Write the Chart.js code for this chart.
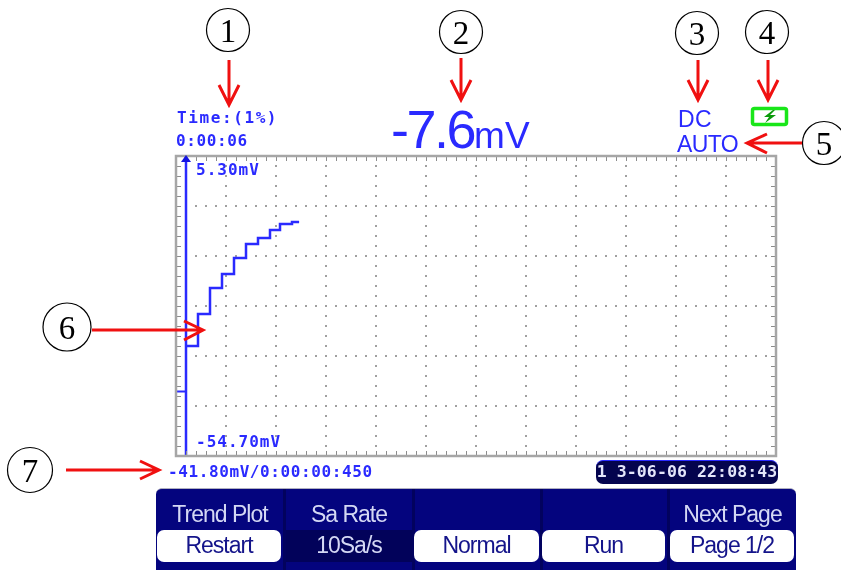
<!DOCTYPE html>
<html lang="en">
<head>
<meta charset="UTF-8">
<title>Trend Plot</title>
<script src="https://cdn.jsdelivr.net/npm/chart.js"></script>
<style>
    html, body { margin: 0; padding: 0; background: #fff; }
    body { width: 841px; height: 570px; position: relative; overflow: hidden; }
    canvas, svg { position: absolute; left: 0; top: 0; }
    .t { position: absolute; white-space: nowrap; line-height: 1; }
    .lcd { font-family: "DejaVu Sans Mono", monospace; font-size: 16px; font-weight: bold; color: #2a2aff; }
    .sans { font-family: "Liberation Sans", sans-serif; color: #2a2aff; }
    #panel { position: absolute; left: 156px; top: 488px; width: 640px; height: 82px; background: #04047e; border-radius: 6px 6px 0 0; border-top: 1px solid #b0b0c0; box-sizing: border-box; }
    .sep { position: absolute; top: 0; width: 3px; height: 82px; background: #02025e; }
    .head, .btn { position: absolute; text-align: center; font-family: "Liberation Sans", sans-serif; font-size: 23px; letter-spacing: -1px; }
    .head { top: 12px; color: #d4d8f4; }
    .btn { top: 41px; height: 32px; line-height: 31px; background: #fff; color: #14148a; border-radius: 7px; }
    .btn.sel { background: #02025a; color: #d4d8f4; border-radius: 0; }
    #stamp { position: absolute; left: 596px; top: 460px; width: 182px; height: 24px; background: #04044e; border-radius: 7px;
             border-top: 1px solid #2a2aff; box-sizing: border-box; color: #e4e6fa; font: bold 16.5px/22px "DejaVu Sans Mono", monospace; text-align: center; letter-spacing: 0.1px; }
    .num { font-family: "Liberation Serif", serif; font-size: 33px; fill: #000; text-anchor: middle; }
</style>
</head>
<body>
<canvas id="trend" width="841" height="570"></canvas>

<div class="t lcd" style="left:177px;top:110px;letter-spacing:1.6px">Time:(1%)</div>
<div class="t lcd" style="left:176px;top:133px;letter-spacing:0.6px">0:00:06</div>
<div class="t sans" style="left:391px;top:102px;font-size:54px;letter-spacing:-2.5px">-7.6<span style="font-size:37px;letter-spacing:0">mV</span></div>
<div class="t sans" style="left:678px;top:108px;font-size:23px;letter-spacing:0.5px">DC</div>
<div class="t sans" style="left:677px;top:133px;font-size:23px;letter-spacing:-0.6px">AUTO</div>
<div class="t lcd" style="left:168px;top:464px;letter-spacing:0.6px">-41.80mV/0:00:00:450</div>
<div id="stamp">1 3-06-06 22:08:43</div>

<div id="panel">
    <div class="sep" style="left:127px"></div>
    <div class="sep" style="left:256px"></div>
    <div class="sep" style="left:384px"></div>
    <div class="sep" style="left:511px"></div>
    <div class="head" style="left:0;width:128px">Trend Plot</div>
    <div class="head" style="left:129px;width:128px">Sa Rate</div>
    <div class="head" style="left:513px;width:127px">Next Page</div>
    <div class="btn" style="left:1px;width:124px">Restart</div>
    <div class="btn sel" style="left:130px;width:126px">10Sa/s</div>
    <div class="btn" style="left:258px;width:125px">Normal</div>
    <div class="btn" style="left:386px;width:123px">Run</div>
    <div class="btn" style="left:514px;width:124px">Page 1/2</div>
</div>

<svg width="841" height="570" viewBox="0 0 841 570">
    <g fill="none" stroke="#000" stroke-width="1.2">
        <circle cx="228" cy="30" r="21.5"/>
        <circle cx="461" cy="32" r="21.5"/>
        <circle cx="697" cy="33" r="21.5"/>
        <circle cx="767" cy="32" r="21.5"/>
        <circle cx="824" cy="143" r="21.5"/>
        <circle cx="67" cy="327" r="24"/>
        <circle cx="30" cy="470" r="22.5"/>
    </g>
    <text class="num" x="228" y="42">1</text>
    <text class="num" x="461" y="44">2</text>
    <text class="num" x="697" y="45">3</text>
    <text class="num" x="767" y="44">4</text>
    <text class="num" x="824" y="155">5</text>
    <text class="num" x="67" y="339">6</text>
    <text class="num" x="30" y="482">7</text>
    <g fill="none" stroke="#f01010" stroke-width="3">
        <path d="M229 60V105M219 85L229 105L239 85"/>
        <path d="M461 58V100M451 80L461 100L471 80"/>
        <path d="M698 60V100M688 80L698 100L708 80"/>
        <path d="M768 60V100M758 80L768 100L778 80"/>
        <path d="M802 143H747M767 134L747 143L767 153"/>
        <path d="M92 330H203M184 321L203 330L184 340"/>
        <path d="M66 470H159M140 461L159 470L140 479"/>
    </g>
    <rect x="752.5" y="108.5" width="34" height="16" rx="2" fill="none" stroke="#19e619" stroke-width="3.5"/>
    <path d="M773 110L764 117H769L765 123L776 115H770L775 110Z" fill="#0a9a0a"/>
</svg>

<script>
    const sampleTimes = [0.45, 0.99, 1.53, 2.07, 2.61, 3.15, 3.69, 4.23, 4.68, 5.22, 5.54];
    const sampleValues = [-32.7, -26.3, -21.1, -18.3, -15.1, -12.3, -11.1, -9.5, -8.3, -7.9, -7.9];
    const timeTicks = [0, 2.25, 4.5, 6.75, 9, 11.25, 13.5, 15.75, 18, 20.25, 22.5, 24.75, 27];
    const mvTicks = [-54.7, -44.7, -34.7, -24.7, -14.7, -4.7, 5.3];
    const cursorTime = 0.45;
    const cursorValue = -41.8;
    const topLabel = '5.30mV';
    const bottomLabel = '-54.70mV';

    const blue = '#2a2aff';

    // marco gris con las marcas cada 10 px y el cursor con su flecha
    const framePlugin = {
        id: 'frame',
        afterDatasetsDraw(chart) {
            const { ctx, chartArea: a, scales } = chart;
            ctx.save();
            ctx.strokeStyle = '#8c8c8c';
            ctx.lineWidth = 1;
            ctx.beginPath();
            for (let i = 1; i < 60; i++) {
                const x = Math.round(a.left + i * a.width / 60) + 0.5;
                ctx.moveTo(x, a.top); ctx.lineTo(x, a.top + 5);
                ctx.moveTo(x, a.bottom); ctx.lineTo(x, a.bottom - 5);
            }
            for (let i = 1; i < 30; i++) {
                const y = Math.round(a.top + i * a.height / 30) + 0.5;
                ctx.moveTo(a.left, y); ctx.lineTo(a.left + 5, y);
                ctx.moveTo(a.right, y); ctx.lineTo(a.right - 5, y);
            }
            ctx.stroke();
            ctx.strokeStyle = '#a6a6a6';
            ctx.lineWidth = 2.5;
            ctx.strokeRect(a.left, a.top, a.width, a.height);

            const cx = scales.x.getPixelForValue(cursorTime);
            ctx.fillStyle = '#1414e0';
            ctx.beginPath();
            ctx.moveTo(cx, a.top - 1); ctx.lineTo(cx - 5, a.top + 6); ctx.lineTo(cx + 5, a.top + 6);
            ctx.closePath();
            ctx.fill();

            ctx.fillStyle = blue;
            ctx.font = 'bold 16px "DejaVu Sans Mono", monospace';
            ctx.letterSpacing = '1px';
            ctx.textBaseline = 'top';
            ctx.fillText(topLabel, cx + 10, a.top + 7);
            ctx.fillText(bottomLabel, cx + 10, a.bottom - 21);
            ctx.restore();
        }
    };

    new Chart(document.getElementById('trend'), {
        type: 'line',
        data: {
            datasets: [
                {
                    data: sampleTimes.map((t, i) => ({ x: t, y: sampleValues[i] })),
                    stepped: 'before',
                    borderColor: blue,
                    borderWidth: 2.5,
                    pointRadius: 0
                },
                {
                    data: [{ x: cursorTime, y: mvTicks[0] }, { x: cursorTime, y: mvTicks[mvTicks.length - 1] }],
                    borderColor: blue,
                    borderWidth: 2.5,
                    pointRadius: 0
                },
                {
                    data: [{ x: timeTicks[0], y: cursorValue }, { x: cursorTime, y: cursorValue }],
                    borderColor: blue,
                    borderWidth: 2,
                    pointRadius: 0
                }
            ]
        },
        options: {
            responsive: false,
            animation: false,
            layout: { padding: { left: 176, right: 65, top: 156, bottom: 114 } },
            plugins: { legend: { display: false }, tooltip: { enabled: false } },
            scales: {
                x: {
                    type: 'linear',
                    min: timeTicks[0],
                    max: timeTicks[timeTicks.length - 1],
                    afterBuildTicks: s => { s.ticks = timeTicks.map(v => ({ value: v })); },
                    ticks: { display: false },
                    border: { display: false, dash: [2, 8], dashOffset: 1 },
                    grid: { color: '#a0a0a0', lineWidth: 2, drawTicks: false }
                },
                y: {
                    type: 'linear',
                    min: mvTicks[0],
                    max: mvTicks[mvTicks.length - 1],
                    afterBuildTicks: s => { s.ticks = mvTicks.map(v => ({ value: v })); },
                    ticks: { display: false },
                    border: { display: false, dash: [2, 8], dashOffset: 1 },
                    grid: { color: '#a0a0a0', lineWidth: 2, drawTicks: false }
                }
            }
        },
        plugins: [framePlugin]
    });
</script>
</body>
</html>
